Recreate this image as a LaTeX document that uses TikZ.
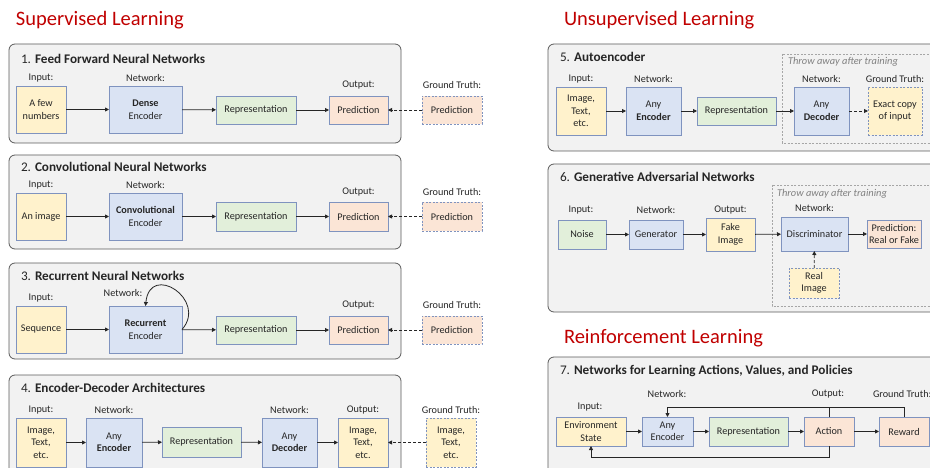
\documentclass[tikz,border=0pt]{standalone}
\usepackage{fontspec}
\setmainfont{Carlito}
\usetikzlibrary{arrows.meta}

\definecolor{headred}{HTML}{C00000}
\definecolor{panelfill}{HTML}{F2F2F2}
\definecolor{panelline}{HTML}{5A5A5A}
\definecolor{boxline}{HTML}{7F93BF}
\definecolor{yel}{HTML}{FFF2CC}
\definecolor{blu}{HTML}{DAE3F3}
\definecolor{grn}{HTML}{E2EFDA}
\definecolor{org}{HTML}{FBE5D6}
\definecolor{ink}{HTML}{262626}
\definecolor{greytext}{HTML}{808080}
\definecolor{greyline}{HTML}{A6A6A6}

% block: style, x1, y1, x2, y2, name, text
\newcommand\blk[7]{\node[#1, minimum width={#4-#2}, minimum height={#5-#3}] (#6) at ({(#2+#4)/2},{(#3+#5)/2}) {#7};}
% small caption above a block: name, x, y, text
\newcommand\lbl[4]{\node[lab] (#1) at (#2,#3) {#4};}

\begin{document}
\begin{tikzpicture}[x=1pt,y=-1pt,
  every node/.style={inner sep=0pt, outer sep=0pt, text=ink},
  box/.style={draw=boxline, line width=0.7pt, align=center,
    font=\fontsize{10.2}{12.5}\selectfont},
  yb/.style={box, fill=yel},
  bb/.style={box, fill=blu},
  gb/.style={box, fill=grn},
  ob/.style={box, fill=org},
  gtbox/.style={box, dash pattern=on 2pt off 1.5pt},
  lab/.style={font=\fontsize{10.2}{12}\selectfont},
  heading/.style={anchor=west, text=headred, font=\fontsize{20.5}{24}\selectfont},
  ptitle/.style={anchor=west, font=\fontsize{13.2}{15}\selectfont},
  panel/.style={draw=panelline, fill=panelfill, line width=0.8pt, rounded corners=6pt},
  throwbox/.style={draw=greyline, line width=0.7pt, dash pattern=on 2pt off 1.5pt},
  throwtext/.style={anchor=west, text=greytext, font=\fontsize{10.4}{12}\selectfont\itshape},
  arr/.style={draw=ink, line width=0.8pt, -{Triangle[length=4pt,width=4pt]}},
  darr/.style={arr, dash pattern=on 3pt off 2pt},
  link/.style={draw=ink, line width=0.8pt}]

\useasboundingbox (0,0) rectangle (930,468);
\clip (0,0) rectangle (930,468);

% ---------- section headings ----------
\node[heading] (hsup) at (16,20) {Supervised Learning};
\node[heading] (hunsup) at (564,20) {Unsupervised Learning};
\node[heading] (hrl) at (564,338) {Reinforcement Learning};

% ---------- panel backgrounds ----------
\draw[panel] (9,44) rectangle (401,143);
\draw[panel] (9,155) rectangle (401,249);
\draw[panel] (9,263) rectangle (401,359);
\draw[panel] (9,375) rectangle (401,490);
\draw[panel] (548,44) rectangle (950,151);
\draw[panel] (548,164) rectangle (950,312);
\draw[panel] (548,357) rectangle (950,490);

% ---------- 1. Feed forward ----------
\node[ptitle] (t1) at (21,59) {1. \textbf{Feed Forward Neural Networks}};
\lbl{l1a}{41}{78}{Input:}
\lbl{l1b}{145.5}{78}{Network:}
\lbl{l1c}{358.5}{85}{Output:}
\lbl{l1d}{452}{85}{Ground Truth:}
\blk{yb}{16}{86}{66}{133}{in1}{A few\\numbers}
\blk{bb}{109}{86}{182}{133}{net1}{\textbf{Dense}\\Encoder}
\blk{gb}{216}{96}{296}{124}{rep1}{Representation}
\blk{ob}{329}{96}{388}{124}{out1}{Prediction}
\blk{gtbox,fill=org}{422}{96}{482}{124}{gt1}{Prediction}
\draw[arr] (in1) -- (net1);
\draw[arr] (net1) -- (rep1);
\draw[arr] (rep1) -- (out1);
\draw[darr] (gt1) -- (out1);

% ---------- 2. Convolutional ----------
\node[ptitle] (t2) at (21,167) {2. \textbf{Convolutional Neural Networks}};
\lbl{l2a}{41}{185}{Input:}
\lbl{l2b}{145.5}{185}{Network:}
\lbl{l2c}{358.5}{192}{Output:}
\lbl{l2d}{452}{192}{Ground Truth:}
\blk{yb}{16}{193}{66}{240}{in2}{An image}
\blk{bb}{109}{193}{182}{240}{net2}{\textbf{Convolutional}\\Encoder}
\blk{gb}{216}{202}{296}{231}{rep2}{Representation}
\blk{ob}{329}{202}{388}{231}{out2}{Prediction}
\blk{gtbox,fill=org}{422}{202}{482}{231}{gt2}{Prediction}
\draw[arr] (in2) -- (net2);
\draw[arr] (net2) -- (rep2);
\draw[arr] (rep2) -- (out2);
\draw[darr] (gt2) -- (out2);

% ---------- 3. Recurrent ----------
\node[ptitle] (t3) at (21,276) {3. \textbf{Recurrent Neural Networks}};
\lbl{l3a}{41}{298}{Input:}
\lbl{l3b}{123}{293}{Network:}
\lbl{l3c}{358.5}{305}{Output:}
\lbl{l3d}{452}{305}{Ground Truth:}
\blk{yb}{16}{306}{66}{353}{in3}{Sequence}
\blk{bb}{109}{306}{182}{353}{net3}{\textbf{Recurrent}\\Encoder}
\blk{gb}{216}{316}{296}{344}{rep3}{Representation}
\blk{ob}{329}{316}{388}{344}{out3}{Prediction}
\blk{gtbox,fill=org}{422}{316}{482}{344}{gt3}{Prediction}
\draw[arr] (in3) -- (net3);
\draw[arr] (net3) -- (rep3);
\draw[arr] (rep3) -- (out3);
\draw[darr] (gt3) -- (out3);
\draw[arr] (net3.east) .. controls (208,300) and (150,262) .. (net3.north);

% ---------- 4. Encoder-decoder ----------
\node[ptitle] (t4) at (21,388) {4. \textbf{Encoder-Decoder Architectures}};
\lbl{l4a}{41}{410}{Input:}
\lbl{l4b}{114}{410}{Network:}
\lbl{l4c}{289.5}{410}{Network:}
\lbl{l4d}{363}{410}{Output:}
\lbl{l4e}{451}{410}{Ground Truth:}
\blk{yb}{16}{418}{66}{467}{in4}{Image,\\Text,\\etc.}
\blk{bb}{86}{418}{142}{467}{enc4}{Any\\\textbf{Encoder}}
\blk{gb}{162}{427}{241}{457}{rep4}{Representation}
\blk{bb}{262}{418}{317}{467}{dec4}{Any\\\textbf{Decoder}}
\blk{yb}{338}{418}{388}{467}{out4}{Image,\\Text,\\etc.}
\blk{gtbox,fill=yel}{426}{418}{476}{467}{gt4}{Image,\\Text,\\etc.}
\draw[arr] (in4) -- (enc4);
\draw[arr] (enc4) -- (rep4);
\draw[arr] (rep4) -- (dec4);
\draw[arr] (dec4) -- (out4);
\draw[darr] (gt4) -- (out4);

% ---------- 5. Autoencoder ----------
\node[ptitle] (t5) at (560,57) {5. \textbf{Autoencoder}};
\draw[throwbox] (782,54) rectangle (950,143);
\node[throwtext] (w5) at (788,62) {Throw away after training};
\lbl{l5a}{581}{79}{Input:}
\lbl{l5b}{653.5}{79}{Network:}
\lbl{l5c}{821.5}{79}{Network:}
\lbl{l5d}{895}{79}{Ground Truth:}
\blk{yb}{556}{87}{606}{135}{in5}{Image,\\Text,\\etc.}
\blk{bb}{626}{87}{681}{135}{enc5}{Any\\\textbf{Encoder}}
\blk{gb}{697}{97}{776}{125}{rep5}{Representation}
\blk{bb}{794}{87}{849}{135}{dec5}{Any\\\textbf{Decoder}}
\blk{gtbox,fill=yel}{868}{87}{922}{135}{gt5}{Exact copy\\of input}
\draw[arr] (in5) -- (enc5);
\draw[arr] (enc5) -- (rep5);
\draw[arr] (rep5) -- (dec5);
\draw[darr] (dec5) -- (gt5);

% ---------- 6. GAN ----------
\node[ptitle] (t6) at (560,177) {6. \textbf{Generative Adversarial Networks}};
\draw[throwbox] (772,185) rectangle (950,306);
\node[throwtext] (w6) at (777,194) {Throw away after training};
\lbl{l6a}{581}{210}{Input:}
\lbl{l6b}{656}{210}{Network:}
\lbl{l6c}{730.5}{210}{Output:}
\lbl{l6d}{814.5}{208}{Network:}
\blk{gb}{558}{220}{606}{249}{noise}{Noise}
\blk{bb}{629}{220}{683}{249}{gen}{Generator}
\blk{yb}{706}{218}{755}{251}{fake}{Fake\\Image}
\blk{bb}{781}{217}{848}{251}{disc}{Discriminator}
\blk{ob}{867}{220}{921}{248}{pred6}{Prediction:\\Real or Fake}
\blk{gtbox,fill=yel}{789}{268}{839}{298}{real}{Real\\Image}
\draw[arr] (noise) -- (gen);
\draw[arr] (gen) -- (fake);
\draw[arr] (fake) -- (disc);
\draw[arr] (disc) -- (pred6);
\draw[darr] (real) -- (disc);

% ---------- 7. Reinforcement learning ----------
\node[ptitle] (t7) at (560,371) {7. \textbf{Networks for Learning Actions, Values, and Policies}};
\lbl{l7a}{590}{407}{Input:}
\lbl{l7b}{667}{394}{Network:}
\lbl{l7c}{828}{394}{Output:}
\node[lab, anchor=west] (l7d) at (873,394) {Ground Truth:};
\blk{yb}{556}{417}{626}{446}{env}{Environment\\State}
\blk{bb}{642}{417}{693}{446}{enc7}{Any\\Encoder}
\blk{gb}{709}{417}{788}{446}{rep7}{Representation}
\blk{ob}{804}{417}{854}{446}{act}{Action}
\blk{ob}{879}{417}{929}{446}{rew}{Reward}
\coordinate (fbtop) at (0,407);
\coordinate (fbbot) at (0,457);
\draw[arr] (env) -- (enc7);
\draw[arr] (enc7) -- (rep7);
\draw[arr] (rep7) -- (act);
\draw[arr] (act) -- (rew);
\draw[arr] (rew.north) -- (rew.north |- fbtop) -- (enc7.north |- fbtop) -- (enc7.north);
\draw[link] (act.north) -- (act.north |- fbtop);
\draw[arr] (act.south) -- (act.south |- fbbot) -- (env.south |- fbbot) -- (env.south);

\end{tikzpicture}
\end{document}
